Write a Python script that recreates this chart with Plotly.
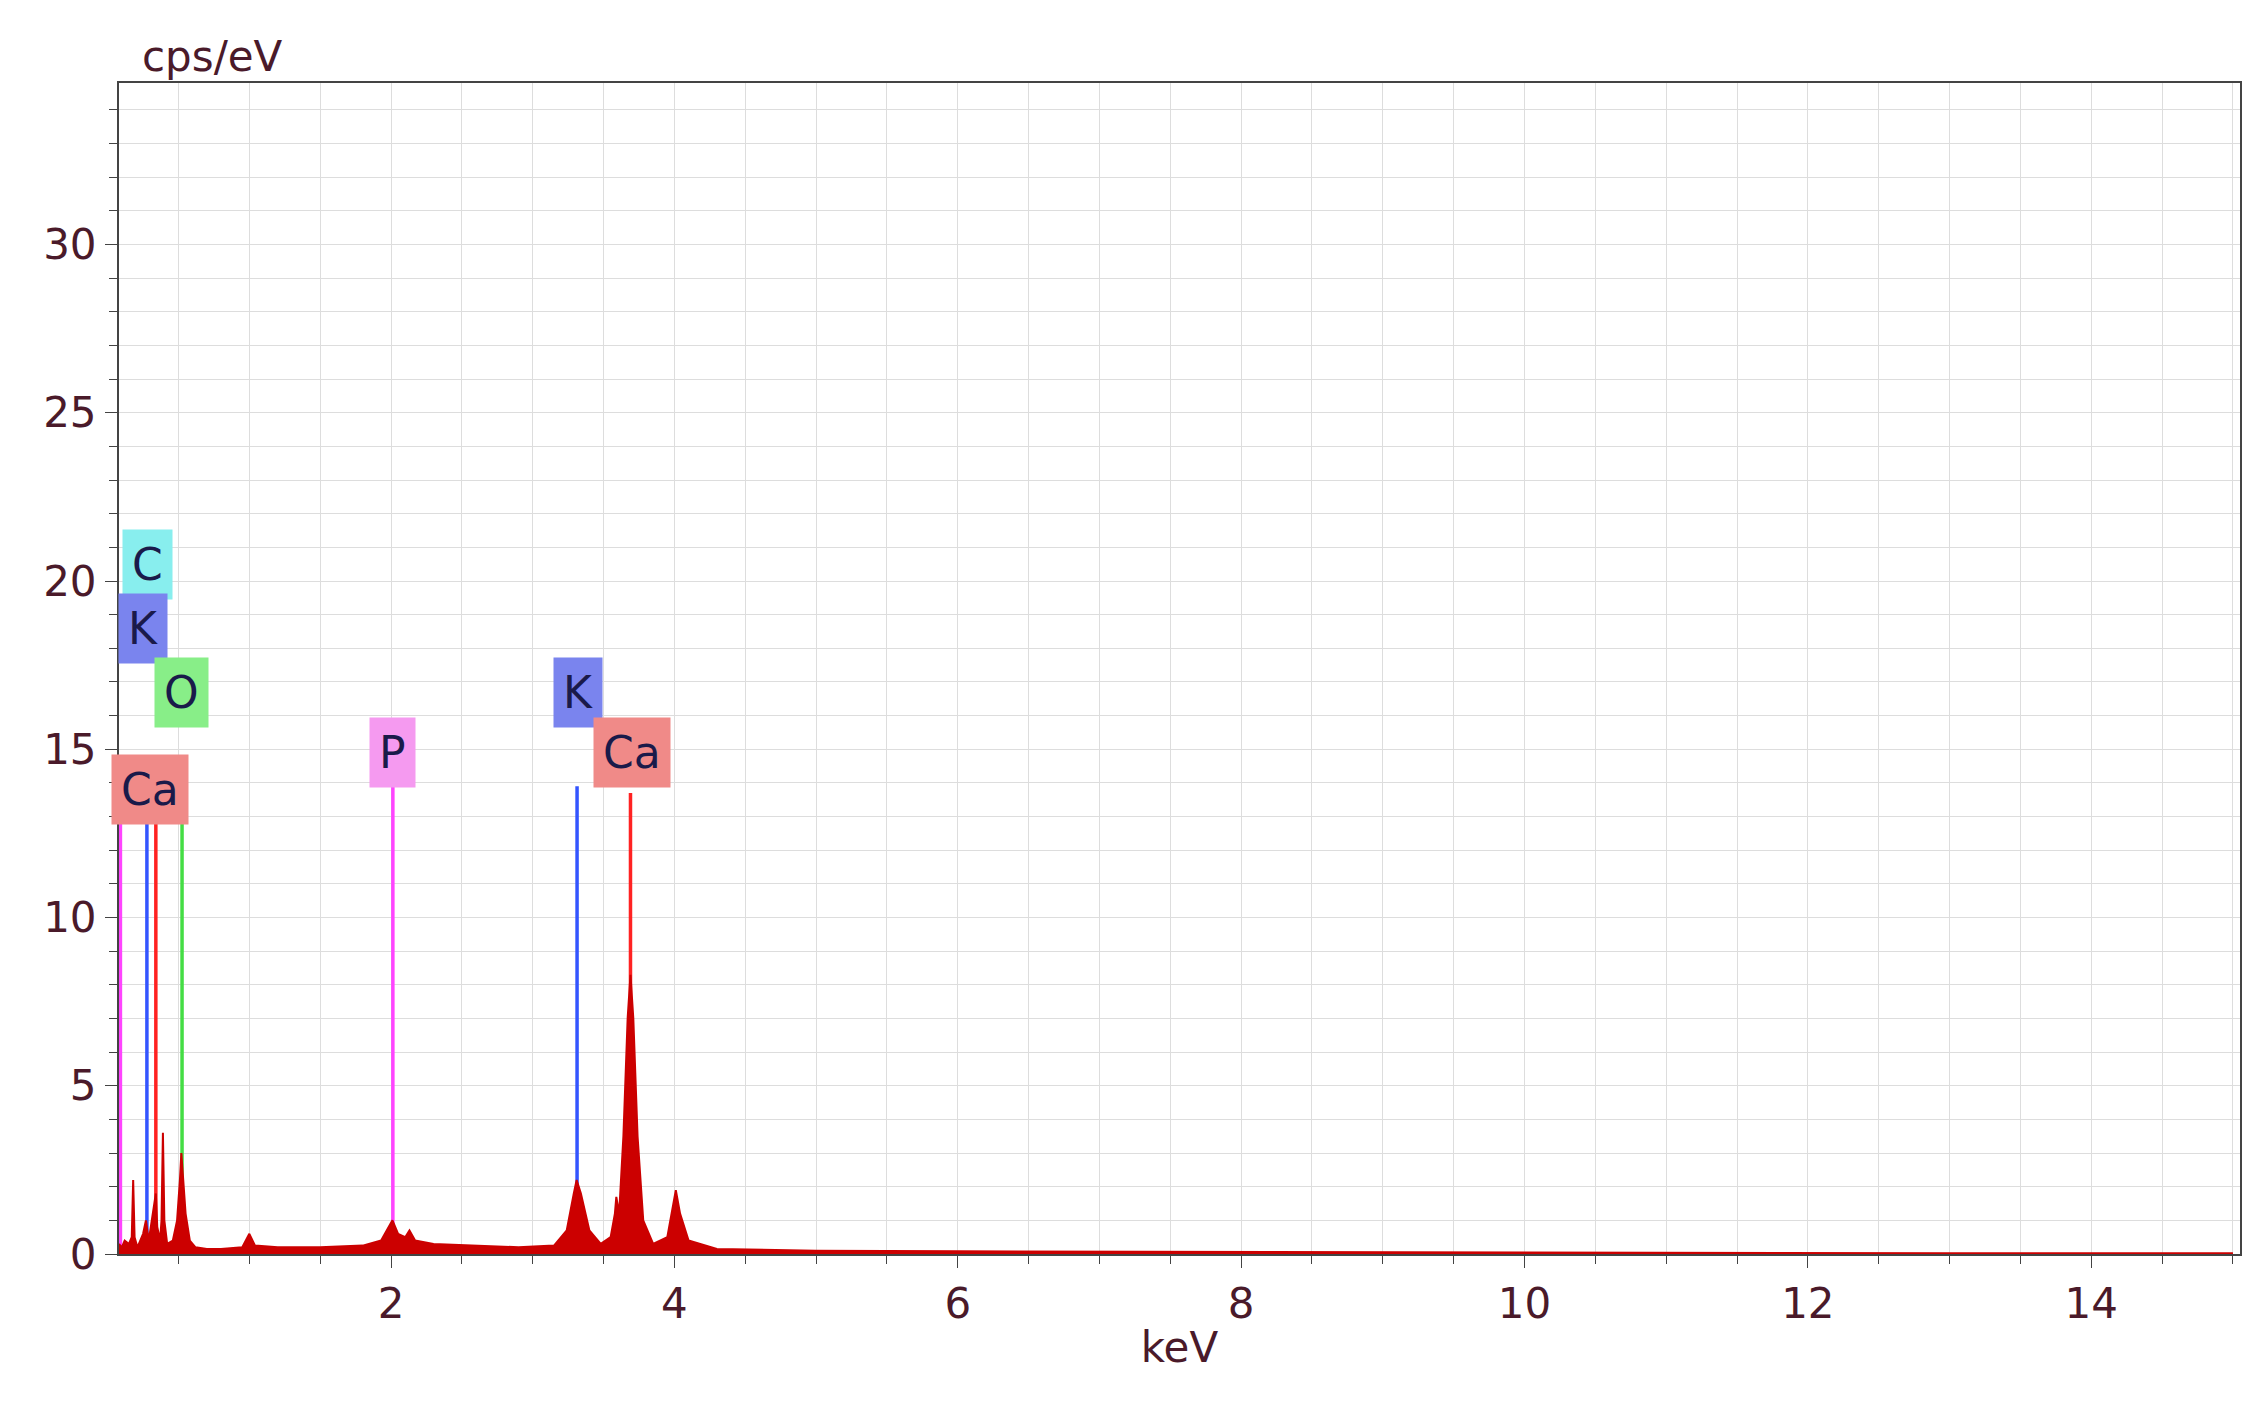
import plotly.graph_objects as go

# spectrum (keV, cps/eV)
energy = [0.08, 0.10, 0.12, 0.15, 0.17, 0.18, 0.19, 0.21, 0.25, 0.27, 0.29, 0.31, 0.33, 0.34, 0.35,
          0.37, 0.38, 0.39, 0.40, 0.42, 0.46, 0.49, 0.51, 0.52, 0.53, 0.55, 0.58, 0.62, 0.7, 0.8,
          0.95, 1.00, 1.04, 1.2, 1.5, 1.8, 1.93, 1.98, 2.01, 2.05, 2.10, 2.13, 2.17, 2.3, 2.6,
          2.9, 3.15, 3.24, 3.29, 3.31, 3.34, 3.40, 3.48, 3.55, 3.58, 3.59, 3.61, 3.64, 3.67, 3.69,
          3.71, 3.74, 3.78, 3.85, 3.95, 3.99, 4.01, 4.04, 4.10, 4.3, 5.0, 6.0, 7.0, 8.0, 9.0, 10.0, 11.0, 12.0, 13.0, 15.0]
counts = [0.3, 0.2, 0.4, 0.3, 0.5, 2.2, 0.5, 0.2, 0.6, 1.0, 0.4, 1.0, 1.6, 1.8, 0.8,
          0.4, 1.0, 3.6, 1.0, 0.3, 0.4, 1.0, 2.2, 3.0, 2.4, 1.2, 0.4, 0.2, 0.15, 0.15,
          0.2, 0.6, 0.25, 0.2, 0.2, 0.25, 0.4, 0.8, 1.0, 0.6, 0.5, 0.7, 0.4, 0.3, 0.25,
          0.2, 0.25, 0.7, 1.8, 2.2, 1.8, 0.7, 0.3, 0.5, 1.2, 1.7, 1.2, 3.5, 7.0, 8.3,
          7.0, 3.5, 1.0, 0.3, 0.5, 1.5, 1.9, 1.2, 0.4, 0.15, 0.1, 0.08, 0.07, 0.06, 0.05, 0.04, 0.03, 0.03, 0.02, 0.02]

# element marker lines
line_x = [0.09, 0.277, 0.34, 0.525, 2.013, 3.313, 3.69]
line_top = [14.5, 12.8, 12.8, 12.8, 14.0, 13.9, 13.7]
line_colors = ["#ff44ff", "#3355ff", "#ff2222", "#44dd44", "#ff44ff", "#3355ff", "#ff2222"]

# labels
label_text = ["C", "K", "O", "Ca", "P", "K", "Ca"]
label_x = [0.28, 0.25, 0.52, 0.3, 2.01, 3.32, 3.7]
label_y = [20.5, 18.6, 16.7, 13.8, 14.9, 16.7, 14.9]
label_bg = ["#88eeee", "#7a84ee", "#88ee88", "#f08a88", "#f59af0", "#7a84ee", "#f08a88"]

fig = go.Figure()
for x, top, c in zip(line_x, line_top, line_colors):
    fig.add_trace(go.Scatter(x=[x, x], y=[0, top], mode="lines",
                             line=dict(color=c, width=3.5), showlegend=False))
fig.add_trace(go.Scatter(x=energy, y=counts, mode="lines", fill="tozeroy",
                         fillcolor="#cc0000", line=dict(color="#cc0000", width=2), showlegend=False))
for t, x, y, bg in zip(label_text, label_x, label_y, label_bg):
    fig.add_annotation(x=x, y=y, text=t, showarrow=False, bgcolor=bg,
                       font=dict(size=44, color="#1a1a4a", family="DejaVu Sans"), borderpad=9)

axis_font = dict(size=42, color="#4a1a2a", family="DejaVu Sans")
fig.update_xaxes(range=[0.08, 15.05], tickvals=[2, 4, 6, 8, 10, 12, 14], tickfont=axis_font,
                 showgrid=True, gridcolor="#dddddd", minor=dict(dtick=0.5, showgrid=True, gridcolor="#dddddd", ticks="outside", ticklen=8),
                 ticks="outside", ticklen=12, showline=True, linecolor="#444444", linewidth=2, mirror=True,
                 title=dict(text="keV", font=axis_font, standoff=5), zeroline=False)
fig.update_yaxes(range=[0, 34.8], tickvals=[0, 5, 10, 15, 20, 25, 30], tickfont=axis_font,
                 showgrid=True, gridcolor="#dddddd", minor=dict(dtick=1, showgrid=True, gridcolor="#dddddd", ticks="outside", ticklen=8),
                 ticks="outside", ticklen=12, showline=True, linecolor="#444444", linewidth=2, mirror=True,
                 zeroline=False)
fig.add_annotation(xref="paper", yref="paper", x=0.01, y=1.0, yanchor="bottom", xanchor="left",
                   text="cps/eV", showarrow=False, font=axis_font)
fig.update_layout(width=2258, height=1404, plot_bgcolor="white", paper_bgcolor="white",
                  margin=dict(l=111, r=26, t=75, b=158))
fig.write_html("out.html")
